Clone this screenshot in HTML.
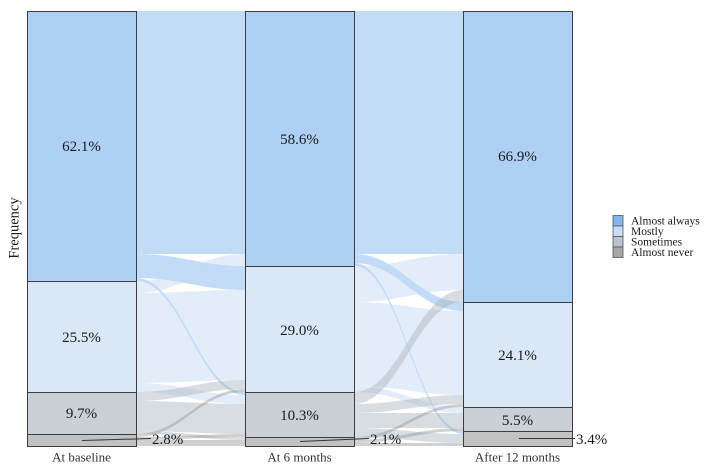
<!DOCTYPE html>
<html>
<head>
<meta charset="utf-8">
<style>
  html, body { margin:0; padding:0; background:#ffffff; }
  svg { display:block; }
  .pct { font-family:"Liberation Serif", serif; font-size:15px; fill:#1a1a1a; text-anchor:middle; }
  .pctl { font-family:"Liberation Serif", serif; font-size:15px; fill:#1a1a1a; }
  .ax { font-family:"Liberation Serif", serif; font-size:13px; fill:#333333; text-anchor:middle; }
  .lg { font-family:"Liberation Serif", serif; font-size:11.5px; fill:#1a1a1a; }
</style>
</head>
<body>
<svg width="714" height="471" viewBox="0 0 714 471" xmlns="http://www.w3.org/2000/svg">
  <rect x="0" y="0" width="714" height="471" fill="#ffffff"/>

  <!-- Flows baseline -> 6 months (x 136 -> 245) -->
  <g fill-opacity="0.45">
    <path fill="#78b1ee" d="M136 11 C182 11 199 11 245 11 L245 254 C199 254 182 254 136 254 Z"/>
    <path fill="#78b1ee" d="M136 254 C182 254 199 266 245 266 L245 290 C199 290 182 278 136 278 Z"/>
    <path fill="#78b1ee" d="M136 278 C182 278 199 392 245 392 L245 395 C199 395 182 281 136 281 Z"/>
    <path fill="#c0d7f2" d="M136 281 C182 281 199 254 245 254 L245 266 C199 266 182 293 136 293 Z"/>
    <path fill="#c0d7f2" d="M136 293 C182 293 199 290 245 290 L245 380 C199 380 182 383 136 383 Z"/>
    <path fill="#c0d7f2" d="M136 383 C182 383 199 395 245 395 L245 404 C199 404 182 392 136 392 Z"/>
    <path fill="#a9b3bd" d="M136 392 C182 392 199 380 245 380 L245 389 C199 389 182 401 136 401 Z"/>
    <path fill="#a9b3bd" d="M136 401 C182 401 199 404 245 404 L245 434 C199 434 182 431 136 431 Z"/>
    <path fill="#a9b3bd" d="M136 431 C182 431 199 437 245 437 L245 440 C199 440 182 434 136 434 Z"/>
    <path fill="#999999" d="M136 434 C182 434 199 389 245 389 L245 392 C199 392 182 437 136 437 Z"/>
    <path fill="#999999" d="M136 437 C182 437 199 434 245 434 L245 437 C199 437 182 440 136 440 Z"/>
    <path fill="#999999" d="M136 440 C182 440 199 440 245 440 L245 446 C199 446 182 446 136 446 Z"/>
  </g>

  <!-- Flows 6 months -> 12 months (x 354 -> 463) -->
  <g fill-opacity="0.45">
    <path fill="#78b1ee" d="M354 11 C400 11 417 11 463 11 L463 254 C417 254 400 254 354 254 Z"/>
    <path fill="#78b1ee" d="M354 254 C400 254 417 302 463 302 L463 311 C417 311 400 263 354 263 Z"/>
    <path fill="#78b1ee" d="M354 263 C400 263 417 431 463 431 L463 434 C417 434 400 266 354 266 Z"/>
    <path fill="#c0d7f2" d="M354 266 C400 266 417 254 463 254 L463 290 C417 290 400 302 354 302 Z"/>
    <path fill="#c0d7f2" d="M354 302 C400 302 417 311 463 311 L463 395 C417 395 400 386 354 386 Z"/>
    <path fill="#c0d7f2" d="M354 386 C400 386 417 407 463 407 L463 413 C417 413 400 392 354 392 Z"/>
    <path fill="#a9b3bd" d="M354 392 C400 392 417 290 463 290 L463 302 C417 302 400 404 354 404 Z"/>
    <path fill="#a9b3bd" d="M354 404 C400 404 417 395 463 395 L463 404 C417 404 400 413 354 413 Z"/>
    <path fill="#a9b3bd" d="M354 413 C400 413 417 413 463 413 L463 428 C417 428 400 428 354 428 Z"/>
    <path fill="#a9b3bd" d="M354 428 C400 428 417 434 463 434 L463 443 C417 443 400 437 354 437 Z"/>
    <path fill="#999999" d="M354 437 C400 437 417 404 463 404 L463 407 C417 407 400 440 354 440 Z"/>
    <path fill="#999999" d="M354 440 C400 440 417 428 463 428 L463 431 C417 431 400 443 354 443 Z"/>
    <path fill="#999999" d="M354 443 C400 443 417 443 463 443 L463 446 C417 446 400 446 354 446 Z"/>
  </g>

  <!-- Strata -->
  <g stroke="#3d3d3d" stroke-width="1">
    <rect x="27.5" y="11.5" width="109" height="270" fill="#aed0f5"/>
    <rect x="27.5" y="281.5" width="109" height="111" fill="#d9e7f7"/>
    <rect x="27.5" y="392.5" width="109" height="42" fill="#cbd0d6"/>
    <rect x="27.5" y="434.5" width="109" height="12" fill="#c2c2c2"/>

    <rect x="245.5" y="11.5" width="109" height="255" fill="#aed0f5"/>
    <rect x="245.5" y="266.5" width="109" height="126" fill="#d9e7f7"/>
    <rect x="245.5" y="392.5" width="109" height="45" fill="#cbd0d6"/>
    <rect x="245.5" y="437.5" width="109" height="9" fill="#c2c2c2"/>

    <rect x="463.5" y="11.5" width="109" height="291" fill="#aed0f5"/>
    <rect x="463.5" y="302.5" width="109" height="105" fill="#d9e7f7"/>
    <rect x="463.5" y="407.5" width="109" height="24" fill="#cbd0d6"/>
    <rect x="463.5" y="431.5" width="109" height="15" fill="#c2c2c2"/>
  </g>

  <!-- Percent labels -->
  <text class="pct" x="81.5" y="151">62.1%</text>
  <text class="pct" x="81.5" y="342">25.5%</text>
  <text class="pct" x="81.5" y="418">9.7%</text>

  <text class="pct" x="299.5" y="144">58.6%</text>
  <text class="pct" x="299.5" y="335">29.0%</text>
  <text class="pct" x="299.5" y="420">10.3%</text>

  <text class="pct" x="517.5" y="161">66.9%</text>
  <text class="pct" x="517.5" y="360">24.1%</text>
  <text class="pct" x="517.5" y="425">5.5%</text>

  <!-- Repelled small labels -->
  <g stroke="#333333" stroke-width="1">
    <line x1="82" y1="440.5" x2="151" y2="438.5"/>
    <line x1="300" y1="441.5" x2="369" y2="438.5"/>
    <line x1="519" y1="438.5" x2="575" y2="438.5"/>
  </g>
  <text class="pctl" x="152" y="444">2.8%</text>
  <text class="pctl" x="370" y="444">2.1%</text>
  <text class="pctl" x="576" y="444">3.4%</text>

  <!-- Axis labels -->
  <text class="ax" x="81.5" y="461.5">At baseline</text>
  <text class="ax" x="299.5" y="461.5">At 6 months</text>
  <text class="ax" x="517.5" y="461.5">After 12 months</text>

  <text class="ax" font-size="14.5" style="font-size:14.5px;fill:#1a1a1a" transform="translate(18.5,228) rotate(-90)">Frequency</text>

  <!-- Legend -->
  <g stroke="#555555" stroke-width="0.8">
    <rect x="613" y="215.5" width="10" height="10.5" fill="#82b6ee"/>
    <rect x="613" y="226" width="10" height="10.5" fill="#c8def6"/>
    <rect x="613" y="236.5" width="10" height="10.5" fill="#b7c3cd"/>
    <rect x="613" y="247" width="10" height="10.5" fill="#a6a6a6"/>
  </g>
  <text class="lg" x="631" y="224.5">Almost always</text>
  <text class="lg" x="631" y="235">Mostly</text>
  <text class="lg" x="631" y="245.5">Sometimes</text>
  <text class="lg" x="631" y="256">Almost never</text>
</svg>
</body>
</html>
